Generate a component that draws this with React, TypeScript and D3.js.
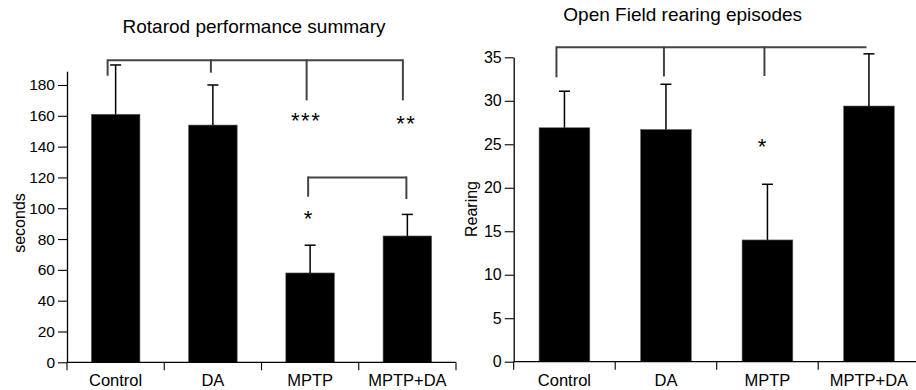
import { useEffect, useRef } from 'react';
import * as d3 from 'd3';

const categories = ['Control', 'DA', 'MPTP', 'MPTP+DA'];

// Rotarod (seconds)
const rotarodMeans = [161, 154, 58, 82];
const rotarodSem = [32, 26, 18, 14];
const rotarodTicks = [0, 20, 40, 60, 80, 100, 120, 140, 160, 180];

// Open field rearing
const rearingMeans = [26.9, 26.7, 14.0, 29.4];
const rearingSem = [4.2, 5.2, 6.4, 6.0];
const rearingTicks = [0, 5, 10, 15, 20, 25, 30, 35];

// significance brackets: group, drop-to value, small x nudge
const rotarodBrackets = [
  { top: 196, legs: [['Control', 186, -8], ['DA', 188, -2], ['MPTP', 170, -3.5], ['MPTP+DA', 170, -4.5]] },
  { top: 120, legs: [['MPTP', 107.5, -2], ['MPTP+DA', 106, -1]] },
];
const rotarodStars = [['MPTP', 160.3, -4, '***'], ['MPTP+DA', 158, -1, '**'], ['MPTP', 96.5, -2, '*']];

const rearingBrackets = [
  { top: 36.15, legs: [['Control', 32.7, -8], ['DA', 32.8, -2], ['MPTP', 32.85, -3], ['MPTP+DA', null, -2.5]] },
];
const rearingStars = [['MPTP', 25.3, -5.5, '*']];

const FONT = '"Liberation Sans", Arial, Helvetica, sans-serif';

function drawPanel(svg, cfg) {
  const g = svg.append('g');
  const x = d3.scaleBand().domain(categories).range(cfg.xRange).paddingInner(0.5).paddingOuter(0.25);
  const y = d3.scaleLinear().domain([0, cfg.yMax]).range(cfg.yRange);
  const step = x.step();
  const x0 = cfg.xRange[0];
  const cx = (c) => x(c) + x.bandwidth() / 2;

  g.append('text')
    .attr('x', cfg.titleX).attr('y', cfg.titleY)
    .attr('text-anchor', 'middle')
    .attr('font-size', 19).attr('font-family', FONT)
    .text(cfg.title);

  // bars
  g.selectAll('rect.bar')
    .data(cfg.means)
    .enter().append('rect')
    .attr('x', (d, i) => x(categories[i]))
    .attr('y', (d) => y(d))
    .attr('width', x.bandwidth())
    .attr('height', (d) => y(0) - y(d))
    .attr('fill', '#000')
    .attr('stroke', '#666').attr('stroke-width', 0.6);

  // error bars
  cfg.means.forEach((m, i) => {
    const c = cx(categories[i]);
    const top = y(m + cfg.sem[i]);
    g.append('line').attr('x1', c).attr('x2', c).attr('y1', y(m)).attr('y2', top)
      .attr('stroke', '#000').attr('stroke-width', 1.5);
    g.append('line').attr('x1', c - 5.5).attr('x2', c + 5.5).attr('y1', top).attr('y2', top)
      .attr('stroke', '#000').attr('stroke-width', 1.5);
  });

  // y axis
  const yAxis = d3.axisLeft(y).tickValues(cfg.ticks).tickSize(9).tickSizeOuter(0).tickPadding(3);
  const ya = g.append('g').attr('transform', `translate(${x0},0)`).call(yAxis);
  ya.select('.domain').attr('stroke', '#000').attr('stroke-width', 1.3);
  ya.selectAll('.tick line').attr('stroke', '#000').attr('stroke-width', 1.1);
  ya.selectAll('.tick text').attr('font-size', cfg.tickFont).attr('font-family', FONT).attr('fill', '#000');

  // x axis with boundary ticks
  const y0 = y(0);
  g.append('line').attr('x1', x0).attr('x2', x0 + step * categories.length).attr('y1', y0).attr('y2', y0)
    .attr('stroke', '#000').attr('stroke-width', 1.3);
  d3.range(categories.length + 1).forEach((i) => {
    g.append('line').attr('x1', x0 + i * step).attr('x2', x0 + i * step).attr('y1', y0).attr('y2', y0 + 8)
      .attr('stroke', '#000').attr('stroke-width', 1.1);
  });
  g.selectAll('text.xl')
    .data(categories)
    .enter().append('text')
    .attr('x', (d) => cx(d)).attr('y', 385.5)
    .attr('text-anchor', 'middle')
    .attr('font-size', 16.5).attr('font-family', FONT)
    .text((d) => d);

  // y label
  g.append('text')
    .attr('transform', `translate(${cfg.labelX},${cfg.labelY}) rotate(-90)`)
    .attr('text-anchor', 'middle')
    .attr('font-size', 16).attr('font-family', FONT)
    .text(cfg.yLabel);

  // brackets
  cfg.brackets.forEach((b) => {
    const xs = b.legs.map((l) => cx(l[0]) + l[2]);
    const yt = y(b.top);
    g.append('line').attr('x1', d3.min(xs)).attr('x2', d3.max(xs)).attr('y1', yt).attr('y2', yt)
      .attr('stroke', '#444').attr('stroke-width', 2);
    b.legs.forEach((l, i) => {
      if (l[1] == null) return;
      g.append('line').attr('x1', xs[i]).attr('x2', xs[i]).attr('y1', yt - 1).attr('y2', y(l[1]))
        .attr('stroke', '#444').attr('stroke-width', 2);
    });
  });

  cfg.stars.forEach(([cat, v, dx, s]) => {
    g.append('text')
      .attr('x', cx(cat) + dx).attr('y', y(v) + 12.5)
      .attr('text-anchor', 'middle')
      .attr('font-size', 22).attr('letter-spacing', s.length > 1 ? 1.5 : 0)
      .attr('font-family', FONT)
      .text(s);
  });
}

export default function App() {
  const svgRef = useRef(null);

  useEffect(() => {
    const svg = d3.select(svgRef.current);
    svg.selectAll('*').remove();

    drawPanel(svg, {
      title: 'Rotarod performance summary', titleX: 254, titleY: 33,
      means: rotarodMeans, sem: rotarodSem, ticks: rotarodTicks,
      yMax: 189, yRange: [362.3, 362.3 - 189 * 1.5406],
      xRange: [67, 456], tickFont: 15.5,
      yLabel: 'seconds', labelX: 25, labelY: 223,
      brackets: rotarodBrackets, stars: rotarodStars,
    });

    drawPanel(svg, {
      title: 'Open Field rearing episodes', titleX: 682.7, titleY: 21,
      means: rearingMeans, sem: rearingSem, ticks: rearingTicks,
      yMax: 35, yRange: [361.7, 57.3],
      xRange: [513.7, 919.7], tickFont: 16,
      yLabel: 'Rearing', labelX: 477, labelY: 209,
      brackets: rearingBrackets, stars: rearingStars,
    });
  }, []);

  return (
    <div style={{ position: 'absolute', left: 0, top: 0 }}>
      <svg ref={svgRef} width={916} height={390} style={{ display: 'block', background: '#fff' }} />
    </div>
  );
}
